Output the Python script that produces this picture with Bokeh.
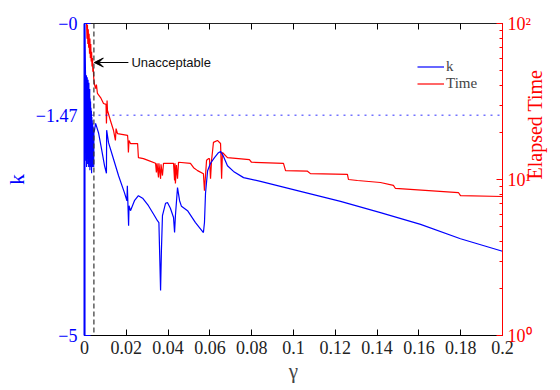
import math
from bokeh.plotting import figure
from bokeh.models import (Range1d, LogScale, LogAxis, LinearAxis, FixedTicker,
                          Legend, Arrow, VeeHead, Label, Span)
from bokeh.embed import file_html
from bokeh.resources import INLINE

# ---------------- data ----------------
k_gamma = [0.0, 0.0,
           0.0005, 0.0006, 0.0007, 0.0008, 0.0009, 0.0010, 0.0011, 0.0012, 0.0013, 0.0014,
           0.0015, 0.0016, 0.0017, 0.0018, 0.0019, 0.0020, 0.0021, 0.0022, 0.0023, 0.0024,
           0.0025, 0.0026, 0.0027, 0.0028, 0.0029, 0.0030, 0.0031, 0.0032, 0.0033, 0.0034,
           0.0035, 0.0036, 0.0037, 0.0038, 0.0039, 0.0040, 0.0041, 0.0042, 0.0043, 0.0044,
           0.0045, 0.0048,
           0.0053, 0.0067, 0.0081, 0.0096, 0.0105, 0.0106, 0.0115, 0.0134, 0.0163,
           0.0191, 0.0203, 0.0205, 0.0211, 0.0213, 0.022, 0.0239, 0.0258, 0.0278,
           0.0306, 0.0335, 0.0349, 0.0356, 0.0364, 0.0368, 0.0373, 0.0388, 0.0397,
           0.0411, 0.0426, 0.0431, 0.0435, 0.0445, 0.0455, 0.0464, 0.0493, 0.0531,
           0.0569, 0.0574, 0.0579, 0.0589, 0.0603, 0.0622, 0.0641, 0.0651, 0.0665,
           0.0684, 0.0713, 0.0761, 0.0842, 0.1033, 0.1225, 0.1416, 0.1608, 0.1799, 0.2]
k_value = [-5.0, -0.02,
           -0.83, -2.2, -0.85, -1.9, -0.83, -2.3, -0.9, -2.1, -0.86, -1.8,
           -0.95, -2.25, -0.9, -2.0, -1.0, -2.3, -0.95, -1.9, -1.1, -2.2,
           -1.05, -2.35, -1.2, -2.0, -1.25, -2.3, -1.35, -2.1, -1.4, -2.4,
           -1.5, -2.2, -1.55, -2.3, -1.6, -2.15, -1.65, -2.25, -1.7, -2.3,
           -1.75, -1.71,
           -1.60, -1.75, -2.0, -2.28, -2.40, -1.71, -1.91, -2.12, -2.44,
           -2.71, -2.84, -2.60, -3.24, -2.92, -3.0, -2.84, -2.76, -2.80,
           -2.92, -3.08, -3.16, -3.19, -4.28, -3.64, -3.08, -2.88, -2.87,
           -2.96, -3.11, -3.35, -3.08, -2.63, -2.84, -2.93, -3.0, -3.19,
           -3.35, -3.19, -2.72, -2.36, -2.24, -2.15, -2.07, -2.05, -2.13,
           -2.28, -2.37, -2.47, -2.53, -2.69, -2.85, -3.03, -3.22, -3.45, -3.65]

t_gamma = [0.0010, 0.0012, 0.0014, 0.0016, 0.0018, 0.0020, 0.0022, 0.0024, 0.0026,
           0.0028, 0.0030, 0.0032, 0.0034, 0.0036, 0.0038, 0.0040, 0.0042, 0.0044,
           0.0048, 0.0053, 0.0057, 0.0062, 0.0077, 0.0091, 0.0103, 0.0105,
           0.0108, 0.011, 0.0124, 0.0139, 0.0148, 0.0151, 0.0158, 0.0206, 0.0208,
           0.021, 0.0213, 0.022, 0.0254, 0.0258, 0.0282, 0.0301, 0.034, 0.0344,
           0.0347, 0.0354, 0.0356, 0.0364, 0.0366, 0.0373, 0.0378, 0.0426, 0.0431,
           0.0433, 0.0435, 0.044, 0.0445, 0.045, 0.0507, 0.0522, 0.0541, 0.0569,
           0.0574, 0.0584, 0.0593, 0.0598, 0.0603, 0.0608, 0.0612, 0.0617, 0.0636,
           0.0651, 0.0656, 0.066, 0.0684, 0.0789, 0.0799, 0.0952, 0.0962, 0.1067,
           0.1081, 0.1258, 0.1263, 0.1306, 0.1416, 0.1478, 0.1488, 0.1789, 0.1799, 0.2]
t_value = [100, 80, 98, 74, 92, 70, 86, 64, 80,
           60, 74, 57, 66, 53, 60, 49, 52, 45,
           40.6, 38.3, 40.6, 35.6, 33.5, 30.7, 30.3, 22.9,
           32.1, 27.7, 23.9, 20.6, 17.8, 21.2, 19.7, 19.2, 17.8,
           14.9, 17.8, 17.0, 17.0, 13.8, 13.6, 13.3, 12.7, 11.1,
           12.7, 10.3, 12.7, 10.1, 12.5, 10.6, 12.7, 12.7, 9.85,
           12.7, 9.42, 12.4, 10.1, 12.9, 12.7, 11.9, 11.4, 10.9,
           8.49, 13.3, 13.6, 13.6, 10.1, 13.3, 14.9, 17.3, 17.8,
           17.0, 10.1, 14.9, 13.8, 13.4, 12.9, 12.7, 11.4, 11.3,
           10.9, 10.8, 10.0, 9.85, 9.57, 9.16, 8.76, 8.25, 7.89, 7.78]

x_ticks = [0, 0.02, 0.04, 0.06, 0.08, 0.1, 0.12, 0.14, 0.16, 0.18, 0.2]
x_tick_labels = ["0", "0.02", "0.04", "0.06", "0.08", "0.1", "0.12", "0.14", "0.16", "0.18", "0.2"]
k_ticks = [-5, -1.47, 0]
k_tick_labels = ["\u22125", "\u22121.47", "\u22120"]
t_ticks = [1, 10, 100]
t_minor_ticks = [2, 3, 4, 5, 6, 7, 8, 9, 20, 30, 40, 50, 60, 70, 80, 90]
t_tick_labels = ["10\u2070", "10\u00b9", "10\u00b2"]
threshold_k = -1.47
unacceptable_gamma = 0.0045
annot_k = -0.625
annot_gamma_text = 0.0215

SERIF = "Liberation Serif"
SANS = "Liberation Sans"

p = figure(width=560, height=390, x_range=Range1d(0, 0.2), y_range=Range1d(-5, 0),
           output_backend="svg", toolbar_location=None,
           min_border_left=84, min_border_right=58, min_border_top=23, min_border_bottom=55)
p.outline_line_color = None
p.grid.visible = False
p.background_fill_color = "white"

p.extra_y_ranges = {"time": Range1d(1, 100)}
p.extra_y_scales = {"time": LogScale()}

# bottom axis
xa = p.xaxis[0]
xa.ticker = FixedTicker(ticks=x_ticks)
xa.major_label_overrides = dict(zip(x_ticks, x_tick_labels))
xa.major_label_text_font = SERIF
xa.major_label_text_font_size = "18px"
xa.major_label_text_color = "#222222"
xa.major_label_standoff = 5
xa.axis_label = "\u03b3"
xa.axis_label_text_font = SERIF
xa.axis_label_text_font_style = "normal"
xa.axis_label_text_font_size = "21px"
xa.axis_label_standoff = 2
xa.major_tick_in = 6
xa.major_tick_out = 0
xa.minor_tick_line_color = None
xa.axis_line_color = "black"
xa.major_tick_line_color = "black"

# left axis (k)
ya = p.yaxis[0]
ya.ticker = FixedTicker(ticks=k_ticks)
ya.major_label_overrides = dict(zip(k_ticks, k_tick_labels))
ya.major_label_text_font = SERIF
ya.major_label_text_font_size = "18px"
ya.major_label_text_color = "blue"
ya.major_label_standoff = 7
ya.axis_label = "k"
ya.axis_label_text_font = SERIF
ya.axis_label_text_font_style = "normal"
ya.axis_label_text_font_size = "22px"
ya.axis_label_text_color = "blue"
ya.axis_label_standoff = 4
ya.major_tick_in = 6
ya.major_tick_out = 0
ya.minor_tick_line_color = None
ya.axis_line_color = "blue"
ya.axis_line_width = 2
ya.major_tick_line_color = "blue"

# top axis (ticks only)
top = LinearAxis(ticker=FixedTicker(ticks=x_ticks),
                 major_label_overrides={t: "" for t in x_ticks},
                 major_tick_in=6, major_tick_out=0, minor_tick_line_color=None,
                 axis_line_color="#222222", major_label_standoff=0)
p.add_layout(top, "above")

# right axis (time, log)
ra = LogAxis(y_range_name="time", ticker=FixedTicker(ticks=t_ticks, minor_ticks=t_minor_ticks))
ra.major_label_overrides = dict(zip(t_ticks, t_tick_labels))
ra.major_label_text_font = SERIF
ra.major_label_text_font_size = "18px"
ra.major_label_text_color = "red"
ra.major_label_standoff = 5
ra.axis_label = "Elapsed Time"
ra.axis_label_orientation = math.pi / 2
ra.axis_label_text_font = SERIF
ra.axis_label_text_font_style = "normal"
ra.axis_label_text_font_size = "20px"
ra.axis_label_text_color = "red"
ra.axis_label_standoff = 0
ra.major_tick_in = 6
ra.major_tick_out = 0
ra.minor_tick_in = 3
ra.minor_tick_out = 0
ra.axis_line_color = "red"
ra.major_tick_line_color = "red"
ra.minor_tick_line_color = "red"
p.add_layout(ra, "right")

# reference lines
p.add_layout(Span(location=threshold_k, dimension="width", line_color="blue",
                  line_alpha=0.55, line_dash="2 5", line_width=1.5))
p.add_layout(Span(location=unacceptable_gamma, dimension="height", line_color="#333333",
                  line_dash="5 3", line_width=1.2))

r_t = p.line(t_gamma, t_value, y_range_name="time", line_color="red", line_width=1.2)
r_k = p.line(k_gamma, k_value, line_color="blue", line_width=1.2)

p.add_layout(Arrow(end=VeeHead(size=9, fill_color="black", line_color="black"),
                   x_start=annot_gamma_text - 0.0005, y_start=annot_k,
                   x_end=unacceptable_gamma + 0.0002, y_end=annot_k,
                   line_color="black", line_width=1))
p.add_layout(Label(x=annot_gamma_text, y=annot_k, text="Unacceptable",
                   text_font=SANS, text_font_size="13px", text_baseline="middle",
                   text_color="#111111", x_offset=2))

legend = Legend(items=[("k", [r_k]), ("Time", [r_t])], location=(333, 243),
                background_fill_alpha=0, border_line_alpha=0,
                label_text_font=SERIF, label_text_font_size="15px",
                glyph_width=27, glyph_height=13, label_height=13,
                spacing=0, padding=0, margin=0, label_standoff=2)
p.add_layout(legend)

open("out.html", "w").write(file_html(p, INLINE))
